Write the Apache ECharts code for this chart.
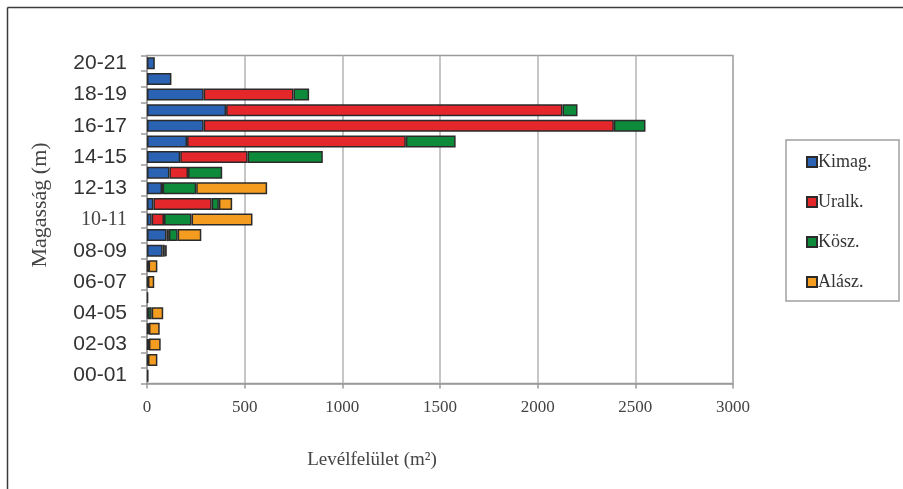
<!DOCTYPE html>
<html>
<head>
<meta charset="utf-8">
<script src="https://cdn.jsdelivr.net/npm/echarts@6/dist/echarts.min.js"></script>
<style>
  html, body { margin: 0; padding: 0; background: #fff; }
  #chart { width: 903px; height: 489px; }
</style>
</head>
<body>
<div id="chart"></div>
<script>
// Height classes (m), bottom to top
const heights = ['00-01','01-02','02-03','03-04','04-05','05-06','06-07','07-08','08-09','09-10',
                 '10-11','11-12','12-13','13-14','14-15','15-16','16-17','17-18','18-19','19-20','20-21'];

// Leaf area (m2) per crown class
const kimag  = [8, 5, 5, 5, 5, 6, 5, 5, 80, 100, 24, 33, 77, 115, 170, 205, 290, 405, 290, 125, 40];
const uralk  = [0, 0, 0, 0, 0, 0, 0, 0, 10, 12, 63, 298, 3, 95, 345, 1120, 2100, 1722, 460, 0, 0];
const kosz   = [0, 0, 5, 5, 19, 0, 0, 3, 5, 45, 141, 37, 172, 175, 385, 255, 162, 77, 80, 0, 0];
const alasz  = [0, 48, 60, 55, 59, 0, 32, 45, 5, 121, 312, 68, 363, 0, 0, 0, 0, 0, 0, 0, 0];

const xTicks = [0, 500, 1000, 1500, 2000, 2500, 3000];

const seriesDefs = [
  { name: 'Kimag.', data: kimag, color: '#2a62b4' },
  { name: 'Uralk.', data: uralk, color: '#e3272a' },
  { name: 'Kösz.',  data: kosz,  color: '#0e8a3b' },
  { name: 'Alász.', data: alasz, color: '#f49c1f' }
];

const serif = '"Liberation Serif", "DejaVu Serif", serif';
const sans = '"Liberation Sans", Arial, sans-serif';

const chart = echarts.init(document.getElementById('chart'), null, { renderer: 'canvas' });

chart.setOption({
  animation: false,
  backgroundColor: '#fff',
  grid: {
    left: 147, top: 55.5, right: 170, bottom: 105.5,
    show: true, borderColor: '#9a9a9a', borderWidth: 1.5, backgroundColor: 'transparent'
  },
  legend: {
    orient: 'vertical',
    left: 801, top: 148,
    itemWidth: 10, itemHeight: 10, itemGap: 22,
    icon: 'rect',
    textStyle: { fontFamily: serif, fontSize: 18, color: '#333', padding: [0, 0, 0, -4] },
    data: seriesDefs.map(s => s.name)
  },
  xAxis: {
    type: 'value',
    min: xTicks[0], max: xTicks[xTicks.length - 1], interval: 500,
    axisLine: { show: true, lineStyle: { color: '#9a9a9a', width: 1.5 } },
    axisTick: { show: true, length: 5, lineStyle: { color: '#9a9a9a', width: 1.5 } },
    axisLabel: { fontFamily: serif, fontSize: 17, color: '#444', margin: 16, formatter: v => String(v) },
    splitLine: { show: true, lineStyle: { color: '#b3b3b3', width: 1.5 } }
  },
  yAxis: {
    type: 'category',
    data: heights,
    axisLine: { show: true, lineStyle: { color: '#9a9a9a', width: 1.5 } },
    axisTick: { show: true, interval: 0, length: 6, lineStyle: { color: '#9a9a9a', width: 1.5 } },
    axisLabel: {
      interval: 1, margin: 20,
      fontFamily: sans, fontSize: 21, color: '#333',
      formatter: v => v === '10-11' ? '{s|' + v + '}' : v,
      rich: { s: { fontFamily: serif, fontSize: 20, color: '#444' } }
    },
    splitLine: { show: false }
  },
  series: seriesDefs.map(s => ({
    name: s.name,
    type: 'bar',
    stack: 'total',
    barWidth: 12,
    itemStyle: { color: s.color, borderColor: '#2b2b2b', borderWidth: 1.5 },
    data: s.data.map(v => v === 0 ? '-' : v)
  })),
  graphic: [
    // outer frame (top and left edges)
    { type: 'line', shape: { x1: 7.5, y1: 7.5, x2: 903, y2: 7.5 }, style: { stroke: '#3a3a3a', lineWidth: 1.5 } },
    { type: 'line', shape: { x1: 7.5, y1: 7.5, x2: 7.5, y2: 489 }, style: { stroke: '#3a3a3a', lineWidth: 1.5 } },
    // legend box
    { type: 'rect', shape: { x: 786, y: 140, width: 113, height: 161 }, style: { fill: 'none', stroke: '#a0a0a0', lineWidth: 1.5 }, z: 0 },
    // axis titles
    { type: 'text', x: 40, y: 205, rotation: Math.PI / 2,
      style: { text: 'Magasság (m)', font: '22px ' + serif, fill: '#444', textAlign: 'center', textVerticalAlign: 'middle' } },
    { type: 'text', x: 372, y: 460,
      style: { text: 'Levélfelület (m²)', font: '19px ' + serif, fill: '#444', textAlign: 'center', textVerticalAlign: 'middle' } }
  ]
});
</script>
</body>
</html>
